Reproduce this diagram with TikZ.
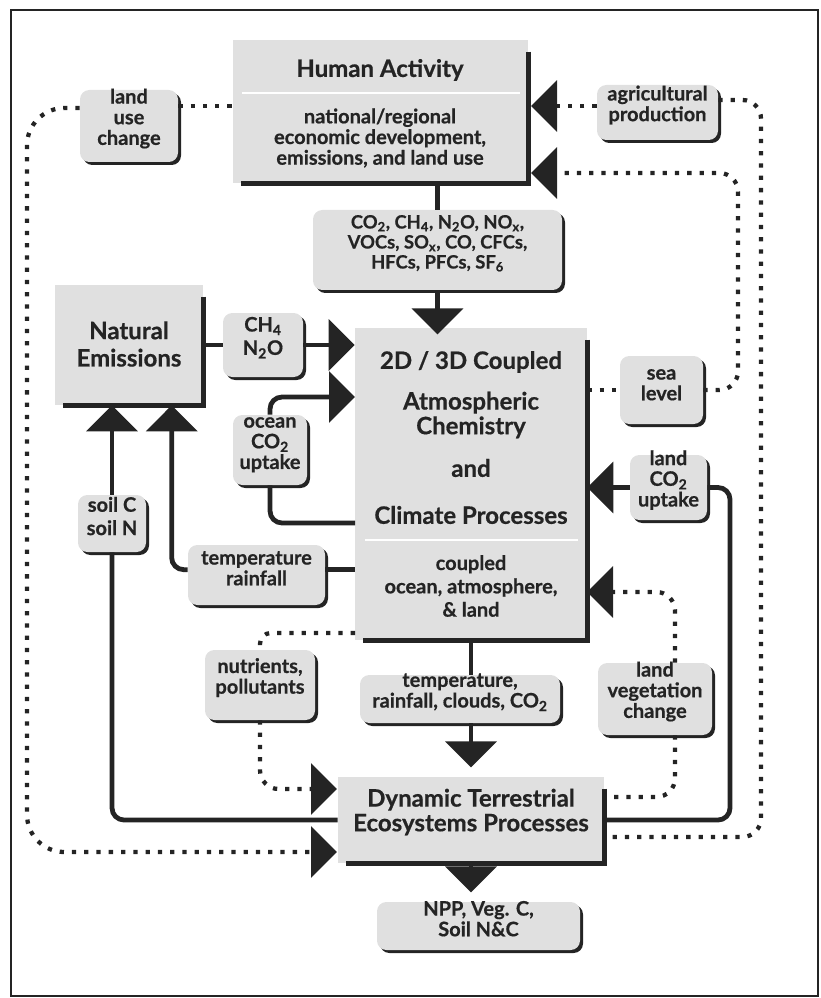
\documentclass[tikz,border=0pt]{standalone}
\usepackage{fontspec}
\setmainfont{Lato}[BoldFeatures={FakeBold=0.6}]
\usetikzlibrary{arrows.meta,fit,shadows,calc}

\definecolor{boxfill}{HTML}{E0E0E0}
\definecolor{ink}{HTML}{242424}
\newcommand\dgBody{\bfseries\fontsize{15}{15.5}\selectfont}
\newcommand\dgSmall{\bfseries\fontsize{13.8}{15}\selectfont}
\newcommand\dgTitle{\bfseries\fontsize{18}{18.5}\selectfont}

\begin{document}
\begin{tikzpicture}[x=0.75pt, y=-0.75pt,
  every node/.style={text=ink},
  mainbox/.style={fill=boxfill, inner sep=0pt},
  edgeline/.style={draw=ink, line width=3.75pt},
  smallbox/.style={fill=boxfill, rounded corners=7pt, inner sep=0pt, align=center,
    font=\dgBody, drop shadow={shadow xshift=2.25pt, shadow yshift=-2.25pt, fill=ink, opacity=1}},
  titletext/.style={font=\dgTitle, align=center, inner sep=0pt},
  bodytext/.style={font=\dgBody, align=center, inner sep=0pt},
  link/.style={draw=ink, line width=3.6pt, rounded corners=9pt},
  dots/.style={draw=ink, line width=3.2pt, dash pattern=on 3.2pt off 6pt, rounded corners=14pt},
  bigtip/.style={-{Triangle[length=19.5pt, width=38pt]}},
  sepline/.style={draw=white, line width=1.5pt},
  outerframe/.style={draw=ink, line width=1.6pt}]

\useasboundingbox (0,0) rectangle (820,998);
\draw[outerframe] (11,10) rectangle (818,996);

% ---- main process boxes
\node[mainbox, fit={(233,40)(528,183)}] (ha) {};
\node[titletext] (haTitle) at (380,70) {Human Activity};
\node[bodytext] (haText) at (380,138) {national/regional\\economic development,\\emissions, and land use};
\draw[sepline] (242,93) -- (520,93);

\node[mainbox, fit={(55,285)(203,405)}] (ne) {};
\node[titletext] (neText) at (129,344) {Natural\\[2pt]Emissions};

\node[mainbox, fit={(355,328)(587,640)}] (cc) {};
\node[titletext] (ccTitle) at (471,362) {2D / 3D Coupled};
\node[titletext] (ccChem) at (471,415) {Atmospheric\\Chemistry};
\node[titletext] (ccAnd) at (471,468) {and};
\node[titletext] (ccClim) at (471,515) {Climate Processes};
\draw[sepline] (365,540) -- (578,540);
\node[bodytext] (ccSub) at (471,586) {coupled\\[2pt]ocean, atmosphere,\\[2pt]\&~land};

\node[mainbox, fit={(338,777)(604,863)}] (dt) {};
\node[titletext] (dtText) at (471,812) {Dynamic Terrestrial\\Ecosystems Processes};

\foreach \b in {ha,ne,cc,dt}
  \draw[edgeline] ([yshift=-9pt]\b.north east) -- (\b.south east) -- ([xshift=6pt]\b.south west);

% ---- labelled flows
\node[smallbox, fit={(80,90)(178,162)}] (luc) {land\\use\\change};
\node[smallbox, fit={(597,85)(718,140)}] (ag) {agricultural\\production};
\node[smallbox, font=\dgSmall, fit={(313,210)(562,290)}] (co) {CO\textsubscript{2}, CH\textsubscript{4}, N\textsubscript{2}O, NO\textsubscript{x},\\VOCs, SO\textsubscript{x}, CO, CFCs,\\HFCs, PFCs, SF\textsubscript{6}};
\node[smallbox, fit={(223,313)(303,377)}] (ch) {CH\textsubscript{4}\\[2pt]N\textsubscript{2}O};
\node[smallbox, fit={(233,415)(307,485)}] (oc) {ocean\\CO\textsubscript{2}\\uptake};
\node[smallbox, fit={(620,356)(703,424)}] (sea) {sea\\level};
\node[smallbox, fit={(630,455)(707,520)}] (lc) {land\\CO\textsubscript{2}\\uptake};
\node[smallbox, fit={(78,495)(146,552)}] (soil) {soil C\\[2pt]soil N};
\node[smallbox, fit={(188,545)(325,605)}] (tr) {temperature\\rainfall};
\node[smallbox, fit={(205,650)(315,720)}] (nu) {nutrients,\\pollutants};
\node[smallbox, fit={(360,675)(560,723)}] (tc) {temperature,\\rainfall, clouds, CO\textsubscript{2}};
\node[smallbox, fit={(598,663)(712,735)}] (lvc) {land\\vegetation\\change};
\node[smallbox, fit={(377,902)(580,950)}] (npp) {NPP, Veg. C,\\Soil N\&C};

% ---- ports and bends
\coordinate (pHaLuc) at (233,106);
\coordinate (pHaAg) at (531,106);
\coordinate (pHaSea) at (531,173);
\coordinate (cSeaTurn) at (738,173);
\coordinate (cAgTurn) at (761,100);
\coordinate (cAgLow) at (761,837);
\coordinate (pDtAg) at (604,837);
\coordinate (cLucTurn) at (27,108);
\coordinate (cLucLow) at (27,852);
\coordinate (pDtLuc) at (337,852);
\coordinate (pCcOcIn) at (355,397);
\coordinate (pCcOcOut) at (355,523);
\coordinate (pCcNut) at (355,633);
\coordinate (pDtNut) at (337,789);
\coordinate (pCcLvc) at (587,592);
\coordinate (pDtLvc) at (604,797);
\coordinate (cLcLow) at (730,820);

% ---- connectors
\draw[dots] (luc.east |- pHaLuc) -- (pHaLuc);
\draw[dots, bigtip] (ag.west |- pHaAg) -- (pHaAg);
\draw[dots, bigtip] (sea.east) -| (cSeaTurn) -- (pHaSea);
\draw[dots] (ag.east |- cAgTurn) -- (cAgTurn) -- (cAgLow) -- (pDtAg);
\draw[dots, bigtip, rounded corners=28pt] (luc.west |- cLucTurn) -- (cLucTurn) -- (cLucLow) -- (pDtLuc);
\draw[dots] (cc.east |- sea.west) -- (sea.west);

\draw[link] (co.north |- ha.south) -- (co.north);
\draw[link, bigtip, shorten >=-5pt] (co.south) -- (co.south |- cc.north);
\draw[link] (ne.east) -- (ch.west);
\draw[link, bigtip] (ch.east) -- (ch.east -| cc.west);
\draw[link, bigtip] (oc.north) |- (pCcOcIn);
\draw[link] (oc.south) |- (pCcOcOut);
\draw[link] ([yshift=4pt]tr.east) -- ([yshift=4pt]tr.east -| cc.west);
\draw[link, bigtip] ([yshift=4pt]tr.west) -| ([xshift=32pt]ne.south);
\draw[link] (dt.west) -| (soil.south);
\draw[link, bigtip] (soil.north) -- (soil.north |- ne.south);

\draw[dots, rounded corners=8pt] (pCcNut) -| (nu.north);
\draw[dots, bigtip] (nu.south) |- (pDtNut);

\draw[link] (cc.south) -- (cc.south |- tc.north);
\draw[link, bigtip, shorten >=7pt] (cc.south |- tc.south) -- (dt.north);
\draw[link, bigtip, shorten >=7pt] (dt.south) -- (dt.south |- npp.north);

\draw[link, bigtip] (lc.west) -- (lc.west -| cc.east);
\draw[link] (lc.east) -| (cLcLow) -- (dt.east);
\draw[dots, bigtip] ([xshift=15pt]lvc.north) |- (pCcLvc);
\draw[dots] ([xshift=15pt]lvc.south) |- (pDtLvc);
\end{tikzpicture}
\end{document}
